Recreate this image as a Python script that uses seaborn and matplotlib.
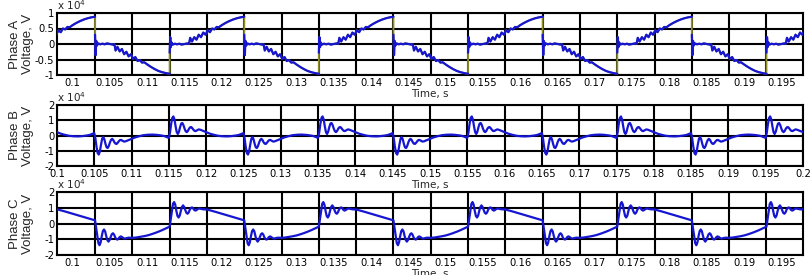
import numpy as np
import pandas as pd
import matplotlib
matplotlib.use("Agg")
import matplotlib.pyplot as plt
import seaborn as sns

# ---------------- data (voltages in units of 1e4 V) ----------------
# Phase A: one cycle, offset 0 = rising step
a_cycle_starts = [0.093, 0.113, 0.133, 0.153, 0.173, 0.193]
a_off = [0.00000, 0.00008, 0.00016, 0.00026, 0.00040, 0.00070, 0.00100, 0.00130,
         0.00160, 0.00200, 0.00240, 0.00260, 0.00275, 0.00300, 0.00330, 0.00360,
         0.00390, 0.00420, 0.00450, 0.00480, 0.00510, 0.00540, 0.00570, 0.00600,
         0.00630, 0.00660, 0.00700, 0.00750, 0.00800, 0.00850, 0.00900, 0.00950,
         0.01000,
         0.01000, 0.01008, 0.01016, 0.01026, 0.01040, 0.01070, 0.01100, 0.01130,
         0.01160, 0.01200, 0.01240, 0.01260, 0.01275, 0.01300, 0.01330, 0.01360,
         0.01390, 0.01420, 0.01450, 0.01480, 0.01510, 0.01540, 0.01570, 0.01600,
         0.01630, 0.01660, 0.01700, 0.01750, 0.01800, 0.01850, 0.01900, 0.01950,
         0.02000]
a_val = [-0.28, 0.22, -0.10, 0.05, -0.02, 0.01, -0.01, 0.01,
         -0.02, 0.00, 0.02, 0.01, 0.20, 0.08, 0.22, 0.14,
         0.30, 0.22, 0.37, 0.30, 0.44, 0.38, 0.50, 0.47,
         0.55, 0.54, 0.61, 0.68, 0.74, 0.79, 0.83, 0.86,
         0.88,
         0.30, -0.36, 0.10, -0.05, 0.02, -0.01, 0.01, -0.01,
         0.02, 0.00, -0.02, -0.01, -0.21, -0.09, -0.24, -0.16,
         -0.33, -0.25, -0.40, -0.33, -0.48, -0.42, -0.55, -0.52,
         -0.60, -0.59, -0.66, -0.74, -0.81, -0.87, -0.91, -0.94,
         -0.96]

# Phase B: one cycle, offset 0 = negative transient
b_cycle_starts = [0.085, 0.105, 0.125, 0.145, 0.165, 0.185]
b_off = [0.00000, 0.00015, 0.00030, 0.00045, 0.00060, 0.00075, 0.00090, 0.00105,
         0.00120, 0.00135, 0.00150, 0.00165, 0.00180, 0.00195, 0.00210, 0.00225,
         0.00240, 0.00255, 0.00270, 0.00285, 0.00300, 0.00315, 0.00330, 0.00345,
         0.00360, 0.00380, 0.00400, 0.00420, 0.00450, 0.00500, 0.00550, 0.00600,
         0.00660, 0.00720, 0.00780, 0.00840, 0.00900, 0.00940, 0.00970, 0.00990,
         0.01000, 0.01015, 0.01030, 0.01045, 0.01060, 0.01075, 0.01090, 0.01105,
         0.01120, 0.01135, 0.01150, 0.01165, 0.01180, 0.01195, 0.01210, 0.01225,
         0.01240, 0.01255, 0.01270, 0.01285, 0.01300, 0.01315, 0.01330, 0.01345,
         0.01360, 0.01380, 0.01400, 0.01420, 0.01450, 0.01500, 0.01550, 0.01600,
         0.01660, 0.01720, 0.01780, 0.01840, 0.01900, 0.01940, 0.01970, 0.01990]
b_val = [0.15, -0.20, -0.75, -1.15, -1.25, -1.05, -0.60, -0.22,
         -0.10, -0.25, -0.55, -0.78, -0.82, -0.68, -0.45, -0.28,
         -0.22, -0.30, -0.45, -0.54, -0.55, -0.47, -0.37, -0.30,
         -0.29, -0.35, -0.40, -0.38, -0.32, -0.22, -0.12, -0.05,
         0.02, 0.05, 0.06, 0.04, 0.00, -0.04, -0.10, -0.14,
         -0.15, 0.20, 0.75, 1.15, 1.25, 1.05, 0.60, 0.22,
         0.10, 0.25, 0.55, 0.78, 0.82, 0.68, 0.45, 0.28,
         0.22, 0.30, 0.45, 0.54, 0.55, 0.47, 0.37, 0.30,
         0.29, 0.35, 0.40, 0.38, 0.32, 0.22, 0.12, 0.05,
         -0.02, -0.05, -0.06, -0.04, 0.00, 0.04, 0.10, 0.14]

# Phase C: one cycle, offset 0 = falling transient
c_cycle_starts = [0.083, 0.103, 0.123, 0.143, 0.163, 0.183]
c_off = [0.00000, 0.00015, 0.00030, 0.00045, 0.00060, 0.00075, 0.00090, 0.00105,
         0.00120, 0.00135, 0.00150, 0.00165, 0.00180, 0.00195, 0.00210, 0.00225,
         0.00240, 0.00255, 0.00270, 0.00285, 0.00300, 0.00315, 0.00330, 0.00345,
         0.00360, 0.00380, 0.00400, 0.00420, 0.00450, 0.00500, 0.00550, 0.00600,
         0.00650, 0.00700, 0.00750, 0.00800, 0.00850, 0.00900, 0.00950,
         0.01000, 0.01015, 0.01030, 0.01045, 0.01060, 0.01075, 0.01090, 0.01105,
         0.01120, 0.01135, 0.01150, 0.01165, 0.01180, 0.01195, 0.01210, 0.01225,
         0.01240, 0.01255, 0.01270, 0.01285, 0.01300, 0.01315, 0.01330, 0.01345,
         0.01360, 0.01380, 0.01400, 0.01420, 0.01450, 0.01500, 0.01600, 0.01700,
         0.01800, 0.01900, 0.01950]
c_val = [0.20, -0.30, -0.85, -1.25, -1.38, -1.20, -0.80, -0.48,
         -0.38, -0.50, -0.80, -1.05, -1.15, -1.05, -0.85, -0.68,
         -0.62, -0.70, -0.88, -0.99, -1.02, -0.96, -0.86, -0.82,
         -0.85, -0.93, -0.96, -0.93, -0.90, -0.91, -0.89, -0.85,
         -0.81, -0.76, -0.69, -0.61, -0.52, -0.42, -0.31,
         -0.20, 0.30, 0.85, 1.25, 1.36, 1.20, 0.80, 0.48,
         0.38, 0.50, 0.80, 1.05, 1.15, 1.05, 0.85, 0.68,
         0.62, 0.70, 0.88, 0.99, 1.02, 0.96, 0.86, 0.82,
         0.85, 0.93, 0.95, 0.93, 0.90, 0.89, 0.76, 0.62,
         0.48, 0.34, 0.27]

a_ticks = [0.1, 0.105, 0.11, 0.115, 0.12, 0.125, 0.13, 0.135, 0.14, 0.145,
           0.15, 0.155, 0.16, 0.165, 0.17, 0.175, 0.18, 0.185, 0.19, 0.195]
b_ticks = a_ticks + [0.2]
ac_grid = [0.103, 0.108, 0.113, 0.118, 0.123, 0.128, 0.133, 0.138, 0.143, 0.148,
           0.153, 0.158, 0.163, 0.168, 0.173, 0.178, 0.183, 0.188, 0.193]
ya_ticks = [-1, -0.5, 0, 0.5, 1]
ybc_ticks = [-2, -1, 0, 1, 2]


def build(starts, offs, vals):
    rows = []
    seg = 0
    prev = None
    for s in starts:
        for o, v in zip(offs, vals):
            t = round(s + o, 6)
            if prev is not None and t == prev:
                seg += 1
            rows.append((t, v, seg))
            prev = t
    return pd.DataFrame(rows, columns=["t", "v", "seg"])


dfA = build(a_cycle_starts, a_off, a_val)
dfB = build(b_cycle_starts, b_off, b_val)
dfC = build(c_cycle_starts, c_off, c_val)

sns.set_style("white")
plt.rcParams["font.family"] = ["DejaVu Sans"]

BLUE = "#1616d2"
OLIVE = "#8f8f2a"
LW_GRID = 1.5

fig = plt.figure(figsize=(8.1, 2.75), dpi=100)
fig.patch.set_facecolor("white")
W, H = 810, 275
axA = fig.add_axes([57 / W, 1 - 75 / H, 746 / W, 62 / H])
axB = fig.add_axes([57 / W, 1 - 166 / H, 746 / W, 61 / H])
axC = fig.add_axes([57 / W, 1 - 255 / H, 746 / W, 63 / H])

sns.lineplot(data=dfA, x="t", y="v", color=OLIVE, lw=1.3, estimator=None,
             sort=False, ax=axA, zorder=3)
sns.lineplot(data=dfA, x="t", y="v", units="seg", color=BLUE, lw=1.6,
             estimator=None, sort=False, ax=axA, zorder=4)
sns.lineplot(data=dfB, x="t", y="v", color=BLUE, lw=1.6, estimator=None,
             sort=False, ax=axB, zorder=4)
sns.lineplot(data=dfC, x="t", y="v", color=BLUE, lw=1.6, estimator=None,
             sort=False, ax=axC, zorder=4)

specs = [
    (axA, (0.0979, 0.1979), a_ticks, ac_grid, (-1, 1), ya_ticks, "Phase A\nVoltage, V"),
    (axB, (0.1, 0.2), b_ticks, None, (-2, 2), ybc_ticks, "Phase B\nVoltage, V"),
    (axC, (0.0979, 0.1979), a_ticks, ac_grid, (-2, 2), ybc_ticks, "Phase C\nVoltage, V"),
]
for ax, xl, xt, xg, yl, yt, lab in specs:
    ax.set_facecolor("white")
    ax.set_xlim(*xl)
    ax.set_ylim(*yl)
    ax.set_xticks(xt)
    ax.set_xticklabels([f"{v:g}" for v in xt])
    ax.set_yticks(yt)
    ax.set_yticklabels([f"{v:g}" for v in yt])
    if xg is not None:
        ax.set_xticks(xg, minor=True)
        ax.grid(True, which="minor", axis="x", color="black", lw=LW_GRID)
        ax.grid(True, which="major", axis="y", color="black", lw=LW_GRID)
        ax.grid(False, which="major", axis="x")
    else:
        ax.grid(True, which="major", axis="both", color="black", lw=LW_GRID)
    ax.set_axisbelow(True)
    ax.tick_params(axis="both", which="both", length=0, labelsize=7.2, pad=2,
                   colors="black")
    for sp in ax.spines.values():
        sp.set_visible(True)
        sp.set_color("black")
        sp.set_linewidth(1.5)
    ax.set_xlabel("Time, s", fontsize=7.5, labelpad=1)
    ax.set_ylabel(lab, fontsize=9.5, family=["Liberation Sans", "DejaVu Sans"],
                  linespacing=1.15)
    ax.yaxis.set_label_coords(-0.031, 0.5)
    ax.text(0.0, 1.01, r"x 10$^{4}$", transform=ax.transAxes, fontsize=7.5,
            ha="left", va="bottom")

fig.savefig("out.png", dpi=100, facecolor="white")
